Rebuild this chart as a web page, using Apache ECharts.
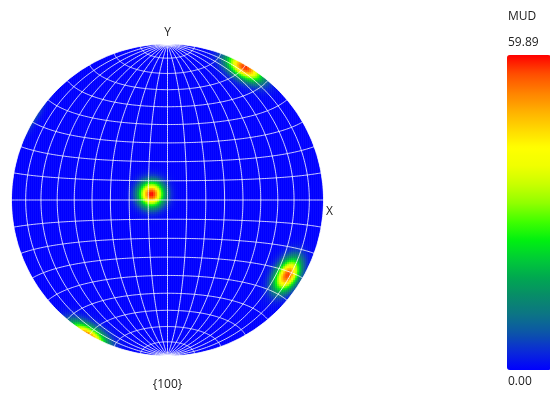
<!DOCTYPE html>
<html><head><meta charset="utf-8">
<script src="https://cdn.jsdelivr.net/npm/echarts@6/dist/echarts.min.js"></script>
<style>html,body{margin:0;padding:0;background:#fff}#c{width:550px;height:399px}</style>
</head><body><div id="c"></div><script>
// ---- data ----
const poleAzimuthDeg = [159, 59.6, -31.9];   // azimuth of each {100} pole (from X, counter-clockwise)
const poleTiltDeg    = [8.8, 88.4, 80.0];    // angle from the projection centre
const polePeakMUD    = [59.9, 58.0, 57.0];   // peak intensity
const poleSpreadDeg  = [4.4, 5.0, 4.9];      // angular spread of each peak
const colorRange     = [0.00, 59.89];
const colorEndLabels = ['59.89', '0.00'];
const unitLabel      = 'MUD';
const axisLabels     = ['X', 'Y'];
const figureTitle    = '{100}';
const netMeridiansDeg = [-90,-80,-70,-60,-50,-40,-30,-20,-10,0,10,20,30,40,50,60,70,80,90];
const netParallelsDeg = [-80,-70,-60,-50,-40,-30,-20,-10,0,10,20,30,40,50,60,70,80];
const rampColors = ['#0000ff','#0a2ad8','#0c55a8','#0c7585','#088c68','#00a850','#00cc36','#00f010','#40ff00','#90ff00','#c8ff00','#f0ff00','#ffff00','#ffd800','#ffae00','#ff8000','#ff4c00','#ff0000'];

// ---- build projection (Schmidt / equal-area, upper hemisphere) ----
const D = Math.PI / 180;
function project(v) { const s = 1 / Math.sqrt(1 + v[2]); return [v[0] * s, v[1] * s]; }
const poles = poleAzimuthDeg.map((a, k) => {
  const t = poleTiltDeg[k] * D, az = a * D;
  return [Math.sin(t) * Math.cos(az), Math.sin(t) * Math.sin(az), Math.cos(t)];
});
const N = 156;
const cats = Array.from({length: N}, (_, i) => i);
const cells = [];
for (let i = 0; i < N; i++) {
  for (let j = 0; j < N; j++) {
    const X = -1 + (i + 0.5) * 2 / N, Y = -1 + (j + 0.5) * 2 / N;
    const r2 = X * X + Y * Y;
    if (r2 > 1.025) continue;
    const rr = Math.min(r2, 1);
    const sc = Math.sqrt(rr / Math.max(r2, 1e-12));
    const f = Math.sqrt(2 - rr);
    const v = [X * sc * f, Y * sc * f, 1 - rr];
    let val = 0;
    poles.forEach((p, k) => {
      const d = Math.max(-1, Math.min(1, p[0]*v[0] + p[1]*v[1] + p[2]*v[2]));
      const a1 = Math.acos(d) / D, a2 = 180 - a1, s = poleSpreadDeg[k];
      val += polePeakMUD[k] * (Math.exp(-a1*a1/(2*s*s)) + Math.exp(-a2*a2/(2*s*s)));
    });
    cells.push([i, j, Math.min(val, colorRange[1])]);
  }
}
const netLines = [];
netMeridiansDeg.forEach(l => {
  const c = [];
  for (let p = -90; p <= 90; p += 1) {
    const ph = p * D, la = l * D;
    c.push(project([Math.cos(ph) * Math.sin(la), Math.sin(ph), Math.cos(ph) * Math.cos(la)]));
  }
  netLines.push({coords: c});
});
netParallelsDeg.forEach(p => {
  const c = [];
  for (let l = -90; l <= 90; l += 1) {
    const ph = p * D, la = l * D;
    c.push(project([Math.cos(ph) * Math.sin(la), Math.sin(ph), Math.cos(ph) * Math.cos(la)]));
  }
  netLines.push({coords: c});
});

const cx = 167.5, cy = 200, R = 156;
const font = '12px "Open Sans", "Noto Sans", sans-serif';
const chart = echarts.init(document.getElementById('c'), null, {renderer: 'canvas'});
chart.setOption({
  animation: false,
  backgroundColor: '#ffffff',
  grid: [
    {left: cx - R, top: cy - R, width: 2 * R, height: 2 * R},
    {left: cx - R, top: cy - R, width: 2 * R, height: 2 * R}
  ],
  xAxis: [
    {type: 'category', data: cats, gridIndex: 0, show: false},
    {type: 'value', min: -1, max: 1, gridIndex: 1, show: false}
  ],
  yAxis: [
    {type: 'category', data: cats, gridIndex: 0, show: false},
    {type: 'value', min: -1, max: 1, gridIndex: 1, show: false}
  ],
  visualMap: {
    type: 'continuous', seriesIndex: 0, min: colorRange[0], max: colorRange[1],
    orient: 'vertical', left: 507, top: 55, itemWidth: 44, itemHeight: 315,
    padding: 0, calculable: false, inRange: {color: rampColors}
  },
  series: [
    {type: 'heatmap', xAxisIndex: 0, yAxisIndex: 0, data: cells, silent: true, progressive: 0,
     emphasis: {disabled: true}, z: 2},
    {type: 'lines', coordinateSystem: 'cartesian2d', xAxisIndex: 1, yAxisIndex: 1, polyline: true,
     silent: true, z: 6, data: netLines,
     lineStyle: {color: '#ffffff', width: 1, opacity: 0.8}}
  ],
  graphic: [
    {type: 'ring', z: 4, silent: true, shape: {cx: cx, cy: cy, r: R + 7, r0: R}, style: {fill: '#ffffff'}},
    {type: 'text', z: 10, x: cx, y: 33, style: {text: axisLabels[1], font: font, fill: '#222', align: 'center', verticalAlign: 'middle'}},
    {type: 'text', z: 10, x: 326, y: 212, style: {text: axisLabels[0], font: font, fill: '#222', align: 'left', verticalAlign: 'middle'}},
    {type: 'text', z: 10, x: cx, y: 385, style: {text: figureTitle, font: font, fill: '#222', align: 'center', verticalAlign: 'middle'}},
    {type: 'text', z: 10, x: 508, y: 17, style: {text: unitLabel, font: font, fill: '#222', align: 'left', verticalAlign: 'middle'}},
    {type: 'text', z: 10, x: 508, y: 43, style: {text: colorEndLabels[0], font: font, fill: '#222', align: 'left', verticalAlign: 'middle'}},
    {type: 'text', z: 10, x: 508, y: 382, style: {text: colorEndLabels[1], font: font, fill: '#222', align: 'left', verticalAlign: 'middle'}}
  ]
});
</script></body></html>
